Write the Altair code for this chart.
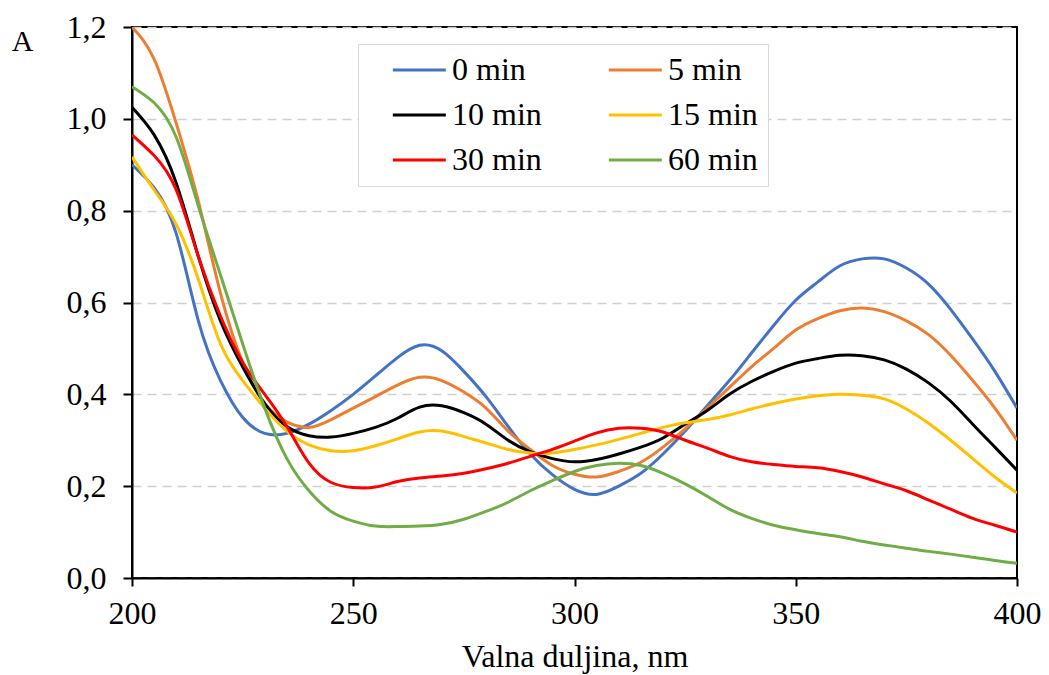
import altair as alt
import pandas as pd

wavelength = [200, 205, 210, 215, 220, 225, 230, 235, 240, 245, 250, 255, 260, 265, 270,
              275, 280, 285, 290, 295, 300, 305, 310, 315, 320, 325, 330, 335, 340, 345,
              350, 355, 360, 365, 370, 375, 380, 385, 390, 395, 400]

s0 = [0.90, 0.85, 0.75, 0.56, 0.43, 0.35, 0.315, 0.315, 0.335, 0.365, 0.40, 0.44, 0.48, 0.507, 0.495,
      0.45, 0.395, 0.33, 0.27, 0.225, 0.193, 0.182, 0.20, 0.228, 0.27, 0.32, 0.375, 0.43, 0.49, 0.55,
      0.605, 0.645, 0.68, 0.695, 0.695, 0.675, 0.64, 0.585, 0.52, 0.45, 0.37]
s5 = [1.20, 1.13, 0.99, 0.82, 0.62, 0.47, 0.38, 0.34, 0.328, 0.345, 0.37, 0.395, 0.42, 0.437, 0.43,
      0.405, 0.37, 0.32, 0.28, 0.245, 0.226, 0.22, 0.232, 0.252, 0.285, 0.325, 0.37, 0.415, 0.46, 0.50,
      0.54, 0.565, 0.582, 0.588, 0.58, 0.56, 0.53, 0.485, 0.43, 0.37, 0.30]
s10 = [1.025, 0.965, 0.86, 0.70, 0.56, 0.46, 0.38, 0.33, 0.31, 0.307, 0.315, 0.328, 0.348, 0.372, 0.375,
       0.36, 0.335, 0.30, 0.275, 0.26, 0.253, 0.258, 0.27, 0.285, 0.305, 0.335, 0.365, 0.40, 0.428, 0.45,
       0.468, 0.478, 0.485, 0.484, 0.475, 0.455, 0.425, 0.385, 0.335, 0.285, 0.235]
s15 = [0.917, 0.845, 0.77, 0.65, 0.51, 0.43, 0.37, 0.32, 0.29, 0.277, 0.277, 0.288, 0.303, 0.318, 0.32,
       0.308, 0.294, 0.28, 0.272, 0.272, 0.28, 0.29, 0.302, 0.315, 0.328, 0.338, 0.345, 0.355, 0.368, 0.38,
       0.39, 0.397, 0.40, 0.398, 0.39, 0.368, 0.337, 0.30, 0.26, 0.22, 0.185]
s30 = [0.965, 0.92, 0.845, 0.70, 0.57, 0.47, 0.40, 0.33, 0.25, 0.208, 0.197, 0.198, 0.21, 0.218, 0.222,
       0.228, 0.238, 0.25, 0.265, 0.28, 0.298, 0.316, 0.326, 0.326, 0.318, 0.30, 0.283, 0.265, 0.253, 0.247,
       0.243, 0.24, 0.232, 0.22, 0.205, 0.19, 0.17, 0.15, 0.13, 0.115, 0.10]
s60 = [1.07, 1.035, 0.96, 0.81, 0.66, 0.51, 0.37, 0.26, 0.19, 0.145, 0.124, 0.113, 0.112, 0.113, 0.117,
       0.128, 0.145, 0.165, 0.19, 0.212, 0.232, 0.245, 0.25, 0.245, 0.228, 0.205, 0.178, 0.15, 0.13, 0.115,
       0.105, 0.097, 0.09, 0.08, 0.072, 0.065, 0.058, 0.052, 0.045, 0.038, 0.032]

series_names = ["0 min", "5 min", "10 min", "15 min", "30 min", "60 min"]
series_values = [s0, s5, s10, s15, s30, s60]
colors = ["#4472C4", "#ED7D31", "#000000", "#FFC000", "#FF0000", "#70AD47"]

rows = []
for name, vals in zip(series_names, series_values):
    for w, v in zip(wavelength, vals):
        rows.append({"nm": w, "A": v, "serija": name})
df = pd.DataFrame(rows)

FONT = "Liberation Serif"
FS = 32

chart = alt.Chart(df).mark_line(strokeWidth=3, interpolate="natural", clip=True).encode(
    x=alt.X("nm:Q",
            scale=alt.Scale(domain=[200, 400], nice=False, zero=False),
            axis=alt.Axis(title="Valna duljina, nm", values=[200, 250, 300, 350, 400],
                          grid=False, tickSize=8, tickColor="black", tickWidth=2,
                          domainColor="black", domainWidth=2, labelFlush=False,
                          labelFont=FONT, labelFontSize=FS, labelColor="black", labelPadding=12,
                          titleFont=FONT, titleFontSize=FS, titleColor="black",
                          titleFontWeight="normal", titlePadding=12)),
    y=alt.Y("A:Q",
            scale=alt.Scale(domain=[0, 1.2], nice=False),
            axis=alt.Axis(title="A", values=[0, 0.2, 0.4, 0.6, 0.8, 1.0, 1.2],
                          labelExpr="replace(format(datum.value, '.1f'), '.', ',')",
                          grid=True, gridColor="#d0d0d0", gridDash=[9, 6], gridWidth=1.5,
                          tickSize=9, tickColor="black", tickWidth=2,
                          domainColor="black", domainWidth=2, labelFlush=False,
                          labelFont=FONT, labelFontSize=FS, labelColor="black", labelPadding=17,
                          titleFont=FONT, titleFontSize=30, titleColor="black",
                          titleFontWeight="normal", titleAngle=0, titleAlign="center",
                          titleBaseline="middle", titleX=-110, titleY=14)),
    color=alt.Color("serija:N",
                    scale=alt.Scale(domain=series_names, range=colors),
                    sort=series_names,
                    legend=alt.Legend(title=None, orient="none", legendX=226, legendY=17,
                                      columns=2, direction="horizontal",
                                      symbolType="M1,0L7,0", symbolSize=312,
                                      symbolStrokeWidth=3, labelFont=FONT, labelFontSize=FS,
                                      labelColor="black", labelOffset=52, columnPadding=42,
                                      rowPadding=13, padding=10, strokeColor="#d9d9d9",
                                      fillColor="white", labelLimit=300)),
).properties(
    width=885, height=551,
    autosize=alt.AutoSizeParams(type="none"),
    padding={"left": 124, "top": 19, "right": 24, "bottom": 99},
).configure_view(
    stroke="black", strokeWidth=2
)

chart.save("out.html", embed_options={"renderer": "svg", "actions": False})
